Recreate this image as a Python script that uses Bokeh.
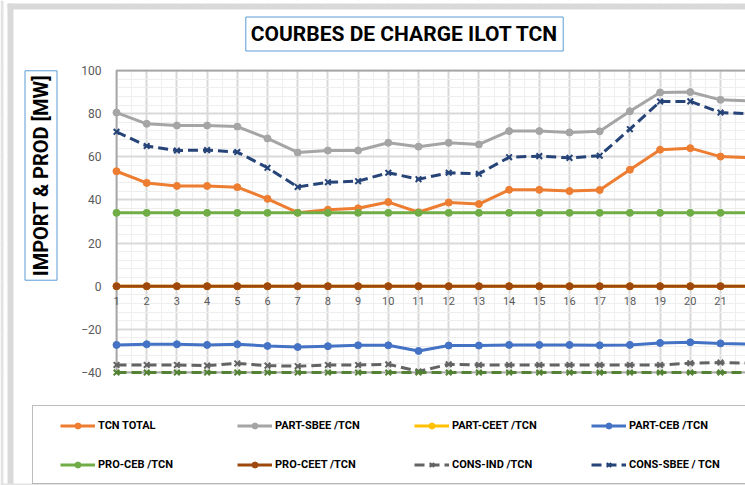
import math
from bokeh.plotting import figure
from bokeh.models import (Range1d, FixedTicker, Legend, LegendItem,
                          Label, BoxAnnotation)
from bokeh.embed import file_html
from bokeh.resources import INLINE

# ---------------- data ----------------
hours = list(range(1, 23))
tcn_total = [53.3, 47.9, 46.5, 46.5, 45.9, 40.5, 34.1, 35.5, 36.1, 39.0, 34.3,
             38.8, 38.1, 44.7, 44.7, 44.1, 44.6, 54.0, 63.3, 64.0, 60.1, 59.6]
part_sbee = [80.5, 75.3, 74.5, 74.5, 74.0, 68.5, 62.0, 62.9, 62.9, 66.5, 64.7,
             66.5, 65.7, 71.9, 71.9, 71.3, 71.8, 81.1, 89.8, 90.0, 86.4, 85.9]
part_ceet = [0.0] * 22
part_ceb = [-27.2, -26.9, -26.9, -27.2, -26.9, -27.7, -28.2, -27.8, -27.4, -27.4, -30.0,
            -27.5, -27.5, -27.2, -27.2, -27.2, -27.4, -27.2, -26.3, -26.0, -26.5, -26.9]
pro_ceb = [34.0] * 22
pro_ceet = [0.0] * 22
cons_ind = [-36.5, -36.5, -36.5, -36.8, -35.8, -36.8, -37.1, -36.5, -36.5, -36.2, -39.5,
            -36.2, -36.5, -36.5, -36.5, -36.5, -36.5, -36.5, -36.5, -35.7, -35.4, -35.7]
cons_sbee = [71.6, 65.0, 62.9, 63.1, 62.2, 54.9, 46.0, 48.2, 48.7, 52.6, 49.6,
             52.6, 52.1, 59.8, 60.3, 59.5, 60.5, 72.8, 85.6, 85.7, 80.5, 79.9]
extra_series = [-40.0] * 22

y_ticks = [-40, -20, 0, 20, 40, 60, 80, 100]
y_min, y_max = -40, 100

title_text = "COURBES DE CHARGE ILOT TCN"
ylabel_text = "IMPORT & PROD [MW]"

series = [
    ("TCN TOTAL", tcn_total, "#ED7D31", "circle", None),
    ("PART-SBEE /TCN", part_sbee, "#A5A5A5", "circle", None),
    ("PART-CEET /TCN", part_ceet, "#FFC000", "circle", None),
    ("PART-CEB /TCN", part_ceb, "#4472C4", "circle", None),
    ("PRO-CEB /TCN", pro_ceb, "#70AD47", "circle", None),
    ("PRO-CEET /TCN", pro_ceet, "#9E480E", "circle", None),
    ("CONS-IND /TCN", cons_ind, "#636363", "x", "10 5"),
    ("CONS-SBEE / TCN", cons_sbee, "#264478", "x", "10 5"),
    (None, extra_series, "#548235", "x", "10 5"),
]

# ---------------- layout ----------------
W, H = 745, 485
AX_X = 116                   # pixel of x = 1
PXX = 30.2                   # px per hour
Y100, YM40 = 70, 372         # pixels of y = 100 and y = -40
PXY = (YM40 - Y100) / (y_max - y_min)

x_start = 1 - AX_X / PXX
x_end = 1 + (W - AX_X) / PXX
y_end = y_max + Y100 / PXY
y_start = y_min - (H - YM40) / PXY

FONT = "Roboto"

p = figure(width=W, height=H, x_range=Range1d(x_start, x_end),
           y_range=Range1d(y_start, y_end),
           output_backend="svg", toolbar_location=None,
           min_border_left=0, min_border_right=0, min_border_top=0,
           min_border_bottom=0, background_fill_color="white",
           border_fill_color="white")
p.outline_line_color = None

# grids
p.xgrid.ticker = FixedTicker(ticks=hours, minor_ticks=[h + 0.5 for h in hours])
p.ygrid.ticker = FixedTicker(ticks=y_ticks,
                             minor_ticks=list(range(y_min, y_max + 1, 4)))
for g in (p.xgrid, p.ygrid):
    g.grid_line_color = "#d9d9d9"
    g.grid_line_width = 2
    g.minor_grid_line_color = "#eeeeee"
    g.minor_grid_line_width = 1

# masks: keep the grid inside the plot area
def mask(**kw):
    return BoxAnnotation(fill_color="white", fill_alpha=1, line_alpha=0,
                         level="underlay", **kw)
p.add_layout(mask(top=y_min))
p.add_layout(mask(bottom=y_max))
p.add_layout(mask(right=hours[0]))
# plot-area border
p.add_layout(BoxAnnotation(left=hours[0], right=x_end + 5, top=y_max, bottom=y_min,
                           fill_alpha=0, line_color="black", line_width=2,
                           level="underlay"))

# chart outer border strips (screen units: x from left, y from bottom)
def strip(l, r, t, b, col="#d9d9d9"):
    return BoxAnnotation(left=l, right=r, top=H - t, bottom=H - b,
                         left_units="screen", right_units="screen",
                         top_units="screen", bottom_units="screen",
                         fill_color=col, fill_alpha=1, line_alpha=0,
                         level="underlay")
p.add_layout(strip(0, 3, 0, H, "#e3e3e3"))
p.add_layout(strip(7, 13, 3, H))
p.add_layout(strip(7, W, 3, 9))
p.add_layout(strip(0, W, 483, H, "#e3e3e3"))

# axes (placed inside the plot)
p.xaxis.fixed_location = 0
p.yaxis.fixed_location = hours[0]
p.xaxis.ticker = FixedTicker(ticks=hours)
p.yaxis.ticker = FixedTicker(ticks=y_ticks)
for ax in (p.xaxis, p.yaxis):
    ax.axis_line_color = None
    ax.major_tick_line_color = None
    ax.minor_tick_line_color = None
    ax.major_label_text_color = "#595959"
    ax.major_label_text_font = FONT
    ax.major_label_text_font_size = "11px"
p.yaxis.major_label_text_font_size = "12px"
p.xaxis.major_label_standoff = 5
p.yaxis.major_label_standoff = 9

# series
items = []
for name, vals, col, mk, dash in series:
    lr = p.line(hours, vals, line_color=col, line_width=3,
                line_dash=dash if dash else "solid")
    if mk == "circle":
        sr = p.scatter(hours, vals, marker="circle", size=7, fill_color=col,
                       line_color=col)
    else:
        sr = p.scatter(hours, vals, marker="x", size=8, line_color=col,
                       line_width=2)
    if name:
        items.append(LegendItem(label=name, renderers=[lr, sr]))

# title
p.add_layout(Label(x=404, y=H - 33.5, x_units="screen", y_units="screen",
                   text=title_text, text_align="center", text_baseline="middle",
                   text_font=FONT, text_font_size="21px", text_font_style="bold",
                   text_color="black", border_line_color="#5B9BD5",
                   border_line_width=1, background_fill_color="white",
                   padding=5))

# y label
p.add_layout(Label(x=40.5, y=H - 175, x_units="screen", y_units="screen",
                   text=ylabel_text, angle=math.pi / 2,
                   text_align="center", text_baseline="middle",
                   text_font=FONT, text_font_size="20px", text_font_style="bold",
                   text_color="black", border_line_color="#5B9BD5",
                   border_line_width=1, background_fill_color="white",
                   padding=4))

# legend box
p.add_layout(BoxAnnotation(left=32, right=W + 50, top=H - 405, bottom=H - 483,
                           left_units="screen", right_units="screen",
                           top_units="screen", bottom_units="screen",
                           fill_color="white", fill_alpha=1,
                           line_color="#222222", line_width=1))

legend = Legend(items=items, location=(60, 13), orientation="horizontal",
                ncols=4, glyph_width=35, glyph_height=15, label_height=15,
                label_width=115, label_standoff=3, spacing=24, padding=5,
                margin=0, border_line_color=None, background_fill_alpha=0,
                label_text_font=FONT, label_text_font_size="11px",
                label_text_font_style="bold", label_text_color="black")
p.add_layout(legend)

open("out.html", "w").write(file_html(p, INLINE))
